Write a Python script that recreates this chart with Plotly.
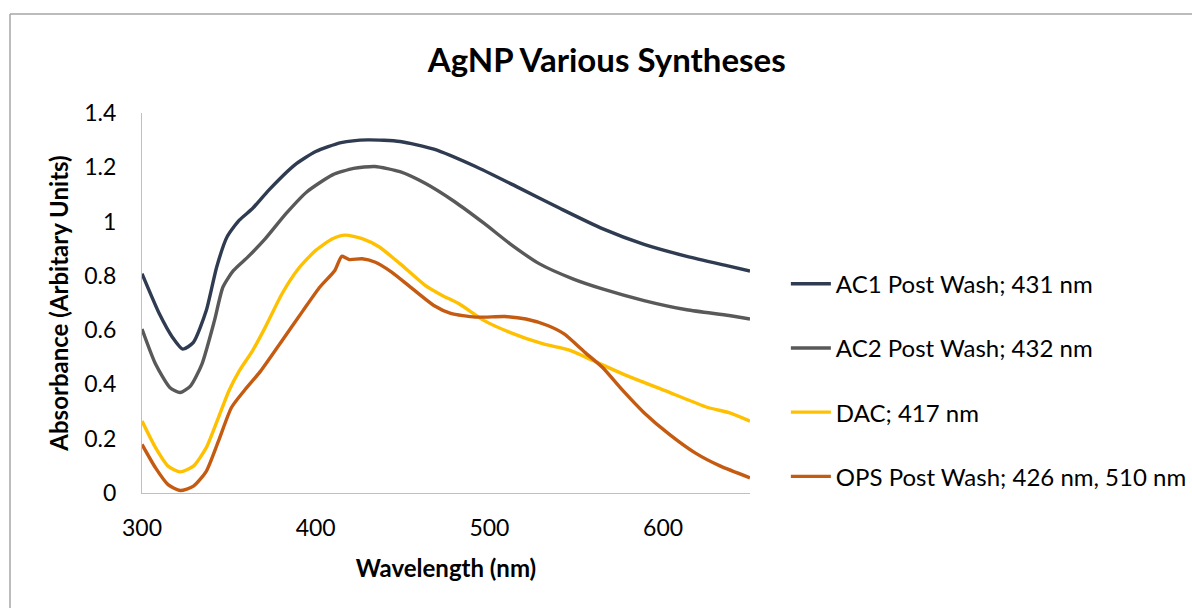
import plotly.graph_objects as go

# Wavelength (nm) / absorbance readings for each series
ac1_x = [300, 310, 317.5, 323.5, 329.6, 337, 343, 349, 356, 363.6, 373, 388, 400, 414.6, 430, 448.5, 468, 492, 516.5, 540.8, 565, 589, 613.6, 637.9, 650]
ac1_y = [0.808, 0.66, 0.574, 0.530, 0.555, 0.672, 0.833, 0.944, 1.005, 1.048, 1.116, 1.209, 1.258, 1.291, 1.301, 1.295, 1.267, 1.203, 1.126, 1.048, 0.974, 0.916, 0.872, 0.836, 0.818]

ac2_x = [300, 307.8, 316, 322, 328, 334.5, 341.7, 346.6, 352.7, 361, 371, 383, 395, 409.7, 421.8, 434, 448.5, 463, 480, 497, 511.7, 528.6, 548, 565, 589, 613.6, 637.9, 650]
ac2_y = [0.604, 0.475, 0.389, 0.370, 0.395, 0.475, 0.635, 0.759, 0.820, 0.870, 0.937, 1.030, 1.110, 1.172, 1.196, 1.203, 1.184, 1.141, 1.073, 0.993, 0.919, 0.845, 0.789, 0.752, 0.709, 0.675, 0.654, 0.641]

dac_x = [300, 307.8, 315, 322, 329.6, 337, 344, 350, 356, 363.6, 371, 380.6, 390, 400, 409.7, 417, 426.7, 436.4, 448.5, 463, 472.8, 482.5, 497, 511.7, 531, 545.6, 560, 577, 601.5, 625.7, 637.9, 650]
dac_y = [0.265, 0.167, 0.099, 0.078, 0.099, 0.167, 0.278, 0.376, 0.450, 0.524, 0.611, 0.734, 0.826, 0.894, 0.937, 0.950, 0.937, 0.907, 0.845, 0.765, 0.728, 0.697, 0.635, 0.592, 0.549, 0.527, 0.487, 0.438, 0.376, 0.315, 0.296, 0.265]

ops_x = [300, 307.8, 315, 322, 329.6, 337, 344, 351.5, 358.7, 368.4, 380.6, 392.7, 402.4, 411, 415, 419.4, 426.7, 434, 443.7, 455.8, 468, 477.7, 492, 509, 521, 533.5, 543, 555, 565, 577, 589, 603.6, 618.4, 633, 650]
ops_y = [0.179, 0.0925, 0.031, 0.009, 0.025, 0.080, 0.191, 0.315, 0.376, 0.450, 0.561, 0.672, 0.759, 0.820, 0.872, 0.860, 0.863, 0.851, 0.814, 0.752, 0.691, 0.662, 0.648, 0.650, 0.641, 0.617, 0.586, 0.518, 0.463, 0.376, 0.296, 0.216, 0.148, 0.099, 0.056]

names = ["AC1 Post Wash; 431 nm", "AC2 Post Wash; 432 nm", "DAC; 417 nm", "OPS Post Wash; 426 nm, 510 nm"]
colors = ["#2f3b50", "#595959", "#ffc000", "#c55a11"]

x_ticks = [300, 400, 500, 600]
y_ticks = [0, 0.2, 0.4, 0.6, 0.8, 1, 1.2, 1.4]
y_tick_text = ["0", "0.2", "0.4", "0.6", "0.8", "1", "1.2", "1.4"]

FONT = "Lato"

fig = go.Figure()
for i, (xs, ys) in enumerate([(ac1_x, ac1_y), (ac2_x, ac2_y), (dac_x, dac_y), (ops_x, ops_y)]):
    fig.add_trace(go.Scatter(
        x=xs, y=ys, mode="lines", name=names[i], legendgroup=f"g{i}",
        line=dict(color=colors[i], width=3.4, shape="spline", smoothing=0.6),
    ))

fig.update_layout(
    width=1192, height=608,
    margin=dict(l=142, r=442, t=113, b=115, autoexpand=False),
    paper_bgcolor="white", plot_bgcolor="white",
    font=dict(family=FONT, color="#000000", size=23),
    title=dict(text="<b>AgNP Various Syntheses</b>", x=0.509, xanchor="center",
               y=1 - 60 / 608, yanchor="middle",
               font=dict(size=33, family=FONT, color="#000000")),
    showlegend=True,
    legend=dict(x=1.059, xanchor="left", y=0.297, yanchor="middle",
                font=dict(size=24, family=FONT), tracegroupgap=30,
                bgcolor="rgba(0,0,0,0)", borderwidth=0, itemwidth=40),
    shapes=[
        dict(type="line", xref="paper", yref="paper", x0=-132 / 608, x1=1.8, y0=1 + 99 / 380, y1=1 + 99 / 380,
             line=dict(color="#a6a6a6", width=1.5)),
        dict(type="line", xref="paper", yref="paper", x0=-132 / 608, x1=-132 / 608, y0=1 + 99 / 380, y1=-0.5,
             line=dict(color="#a6a6a6", width=1.5)),
    ],
)

fig.update_xaxes(
    range=[300, 650], tickvals=x_ticks, ticktext=[str(v) for v in x_ticks],
    showgrid=False, zeroline=False, showline=True, linecolor="#bfbfbf", linewidth=1,
    ticks="outside", ticklen=14, tickcolor="rgba(0,0,0,0)",
    tickfont=dict(size=23, family=FONT),
    title=dict(text="<b>Wavelength (nm)</b>", font=dict(size=24, family=FONT), standoff=20),
)
fig.update_yaxes(
    range=[0, 1.4], tickvals=y_ticks, ticktext=y_tick_text,
    showgrid=False, zeroline=False, showline=True, linecolor="#bfbfbf", linewidth=1,
    ticks="outside", ticklen=20, tickcolor="rgba(0,0,0,0)",
    tickfont=dict(size=23, family=FONT),
    title=dict(text="<b>Absorbance (Arbitary Units)</b>", font=dict(size=24, family=FONT), standoff=8),
)

fig.write_html("out.html")
